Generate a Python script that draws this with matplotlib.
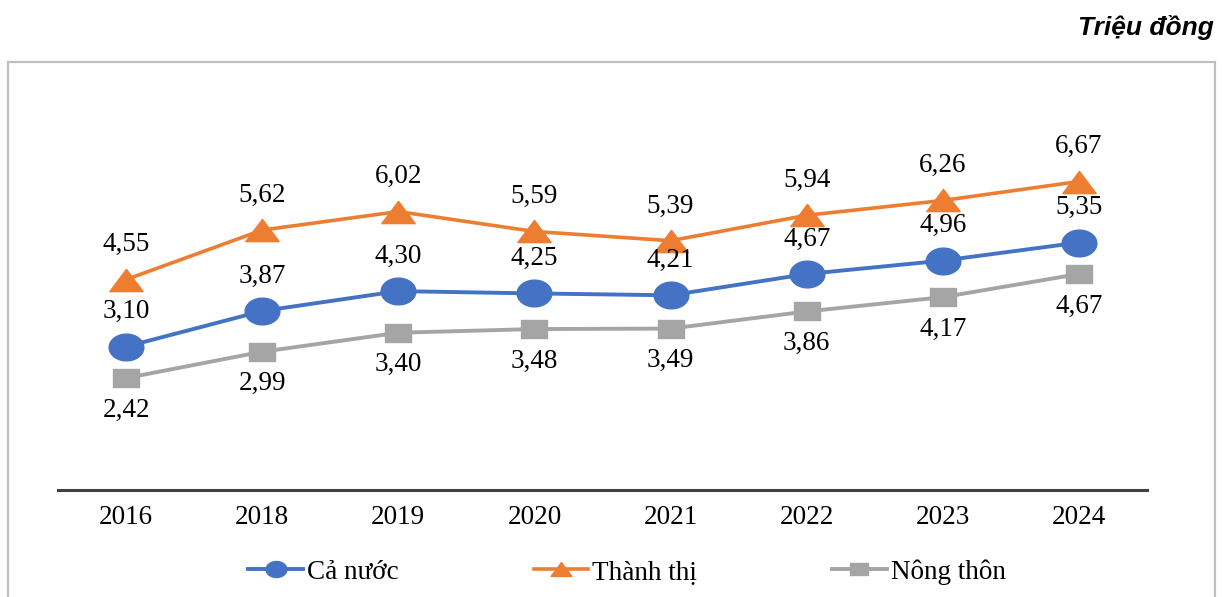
import matplotlib.pyplot as plt
import numpy as np
from matplotlib.path import Path
from matplotlib.patches import Rectangle
from matplotlib.lines import Line2D

years = ["2016", "2018", "2019", "2020", "2021", "2022", "2023", "2024"]
ca_nuoc = [3.10, 3.87, 4.30, 4.25, 4.21, 4.67, 4.96, 5.35]
thanh_thi = [4.55, 5.62, 6.02, 5.59, 5.39, 5.94, 6.26, 6.67]
nong_thon = [2.42, 2.99, 3.40, 3.48, 3.49, 3.86, 4.17, 4.67]
series_names = ["Cả nước", "Thành thị", "Nông thôn"]

BLUE = "#4472C4"
ORANGE = "#ED7D31"
GRAY = "#A5A5A5"
SERIF = "Liberation Serif"
FS = 19.5


def fmt(v):
    return f"{v:.2f}".replace(".", ",")


# markers in the picture are stretched sideways
t = np.linspace(0, 2 * np.pi, 60)
ellipse = Path(np.column_stack([1.3 * np.cos(t), np.sin(t)]), closed=True)
tri = Path([(-1.5, -1), (1.5, -1), (0, 1), (-1.5, -1)], closed=True)
rect = Path([(-1.4, -1), (1.4, -1), (1.4, 1), (-1.4, 1), (-1.4, -1)], closed=True)

fig = plt.figure(figsize=(12.22, 5.97), dpi=100)
ax = fig.add_axes([58 / 1222, 1 - 490 / 597, (1147 - 58) / 1222, (490 - 120) / 597])

x = np.arange(len(years))
ax.plot(x, thanh_thi, color=ORANGE, lw=2.6, marker=tri, ms=24, zorder=3)
ax.plot(x, ca_nuoc, color=BLUE, lw=2.8, marker=ellipse, ms=25, zorder=3)
ax.plot(x, nong_thon, color=GRAY, lw=2.8, marker=rect, ms=19, zorder=3)

for i in x:
    ax.annotate(fmt(ca_nuoc[i]), (i, ca_nuoc[i]), xytext=(0, 25), textcoords="offset points",
                ha="center", va="center", fontsize=FS, family=SERIF)
    ax.annotate(fmt(thanh_thi[i]), (i, thanh_thi[i]), xytext=(0, 25), textcoords="offset points",
                ha="center", va="center", fontsize=FS, family=SERIF)
    ax.annotate(fmt(nong_thon[i]), (i, nong_thon[i]), xytext=(0, -23), textcoords="offset points",
                ha="center", va="center", fontsize=FS, family=SERIF)

ax.set_xlim(-0.5, len(years) - 0.5)
ax.set_ylim(0, 8)
ax.set_xticks(x)
ax.set_xticklabels(years, fontsize=FS, family=SERIF)
ax.tick_params(axis="x", length=0, pad=11)
ax.set_yticks([])
for s in ["top", "right", "left"]:
    ax.spines[s].set_visible(False)
ax.spines["bottom"].set_color("#404040")
ax.spines["bottom"].set_linewidth(2.2)

handles = [
    Line2D([], [], color=BLUE, lw=2.8, marker=ellipse, ms=15),
    Line2D([], [], color=ORANGE, lw=2.6, marker=tri, ms=15),
    Line2D([], [], color=GRAY, lw=2.8, marker=rect, ms=13),
]
fig.legend(handles, series_names, loc="center", bbox_to_anchor=(627 / 1222, 1 - 572 / 597),
           ncol=3, frameon=False, prop={"family": SERIF, "size": FS},
           handlelength=2.0, handletextpad=0.15, columnspacing=5.0, markerscale=1)

fig.text(1214 / 1222, 1 - 28 / 597, "Triệu đồng", ha="right", va="center",
         fontsize=19, fontweight="bold", fontstyle="italic", family="Liberation Sans")

fig.patches.append(Rectangle((8 / 1222, -0.05), (1215 - 8) / 1222, 1.05 - 62 / 597,
                             transform=fig.transFigure, fill=False, edgecolor="#BFBFBF", lw=1.6))

fig.savefig("out.png", dpi=100)
